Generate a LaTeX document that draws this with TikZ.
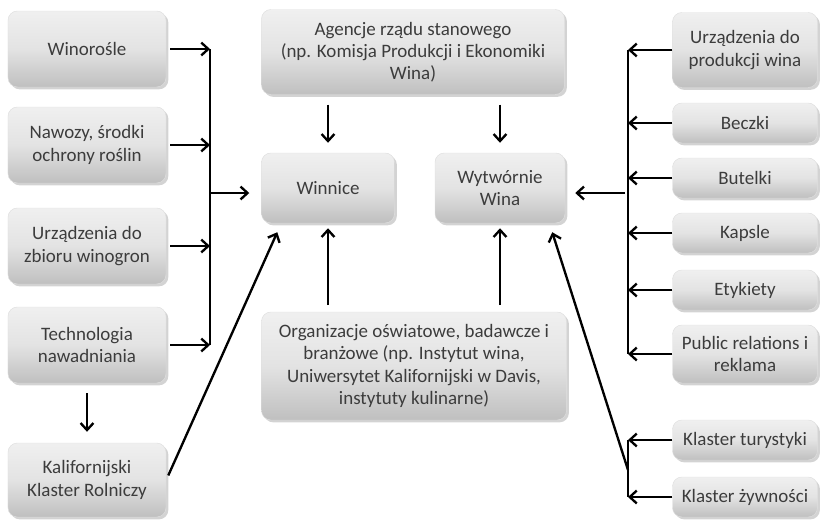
\documentclass[tikz,border=0pt]{standalone}
\usepackage{fontspec}
\setmainfont{Carlito}
\usetikzlibrary{shadows,arrows.meta}
\definecolor{txtgray}{HTML}{3C3C3C}
\tikzset{
  box/.style={rounded corners=8pt, draw=gray!25, top color=gray!12, bottom color=gray!50,
    middle color=gray!22,
    drop shadow={shadow xshift=2pt, shadow yshift=-2pt, opacity=0.35, fill=gray},
    align=center, text=txtgray, inner sep=2pt, font=\fontsize{16.2}{19}\selectfont},
  link/.style={line width=2pt, -{Straight Barb[length=6pt,width=11pt]}},
  bus/.style={line width=2pt},
}
\begin{document}
\begin{tikzpicture}[x=0.03cm, y=-0.03cm]
    \useasboundingbox (0,0) rectangle (823,521);
    % Nodes
    \node[box, minimum width=4.74cm, minimum height=2.28cm] (winorosle) at (87,49) {Winorośle};
    \node[box, minimum width=4.74cm, minimum height=2.28cm] (nawozy) at (87,145) {Nawozy, środki\\ochrony roślin};
    \node[box, minimum width=4.74cm, minimum height=2.28cm] (zbior) at (87,246) {Urządzenia do\\zbioru winogron};
    \node[box, minimum width=4.74cm, minimum height=2.28cm] (nawadnianie) at (87,345) {Technologia\\nawadniania};
    \node[box, minimum width=4.74cm, minimum height=2.22cm] (rolniczy) at (87,480) {Kalifornijski\\Klaster Rolniczy};
    \node[box, minimum width=9.09cm, minimum height=2.55cm] (agencje) at (413,52) {Agencje rządu stanowego\\(np. Komisja Produkcji i Ekonomiki\\Wina)};
    \node[box, minimum width=3.99cm, minimum height=2.1cm] (winnice) at (328,188) {Winnice};
    \node[box, minimum width=3.9cm, minimum height=2.1cm] (wytwornie) at (500,188) {Wytwórnie\\Wina};
    \node[box, minimum width=9.15cm, minimum height=3.24cm] (organizacje) at (414,366) {Organizacje oświatowe, badawcze i\\branżowe (np. Instytut wina,\\Uniwersytet Kalifornijski w Davis,\\instytuty kulinarne)};
    \node[box, minimum width=4.35cm, minimum height=2.25cm] (produkcja) at (745,50) {Urządzenia do\\produkcji wina};
    \node[box, minimum width=4.35cm, minimum height=1.2cm] (beczki) at (745,123) {Beczki};
    \node[box, minimum width=4.35cm, minimum height=1.2cm] (butelki) at (745,178) {Butelki};
    \node[box, minimum width=4.35cm, minimum height=1.2cm] (kapsle) at (745,233) {Kapsle};
    \node[box, minimum width=4.35cm, minimum height=1.2cm] (etykiety) at (745,290) {Etykiety};
    \node[box, minimum width=4.35cm, minimum height=1.74cm] (reklama) at (745,354) {Public relations i\\reklama};
    \node[box, minimum width=4.35cm, minimum height=1.2cm] (turystyka) at (745,440) {Klaster turystyki};
    \node[box, minimum width=4.35cm, minimum height=1.2cm] (zywnosc) at (745,497) {Klaster żywności};

    % Buses
    \coordinate (lbus) at (210,193);
    \coordinate (rbus) at (628,193);
    \coordinate (kbus) at (628,470);

    % Arrows
    \foreach \n in {winorosle,nawozy,zbior,nawadnianie}
        \draw[link, shorten <=0.12cm] (\n.east) -- (\n.east -| lbus);
    \draw[bus] (winorosle.east -| lbus) -- (nawadnianie.east -| lbus);
    \draw[link, shorten >=0.36cm] (lbus) -- (lbus -| winnice.west);

    \foreach \n in {produkcja,beczki,butelki,kapsle,etykiety,reklama}
        \draw[link] (\n.west) -- (\n.west -| rbus);
    \draw[bus] (produkcja.west -| rbus) -- (reklama.west -| rbus);
    \draw[link, shorten <=0.09cm, shorten >=0.3cm] (rbus) -- (rbus -| wytwornie.east);

    \foreach \n in {turystyka,zywnosc}
        \draw[link] (\n.west) -- (\n.west -| kbus);
    \draw[bus] (turystyka.west -| kbus) -- (zywnosc.west -| kbus);
    \draw[link] (kbus) -- ([shift={(-13,9)}]wytwornie.south east);

    \draw[link, shorten <=0.3cm, shorten >=0.3cm] (agencje.south -| winnice) -- (winnice.north);
    \draw[link, shorten <=0.3cm, shorten >=0.3cm] (agencje.south -| wytwornie) -- (wytwornie.north);
    \draw[link, shorten <=0.2cm, shorten >=0.15cm] (organizacje.north -| winnice) -- (winnice.south);
    \draw[link, shorten <=0.2cm, shorten >=0.15cm] (organizacje.north -| wytwornie) -- (wytwornie.south);
    \draw[link, shorten <=0.3cm, shorten >=0.33cm] (nawadnianie.south) -- (rolniczy.north);
    \draw[link, shorten <=0.15cm] (rolniczy.east) -- ([shift={(16,9)}]winnice.south west);
\end{tikzpicture}
\end{document}
